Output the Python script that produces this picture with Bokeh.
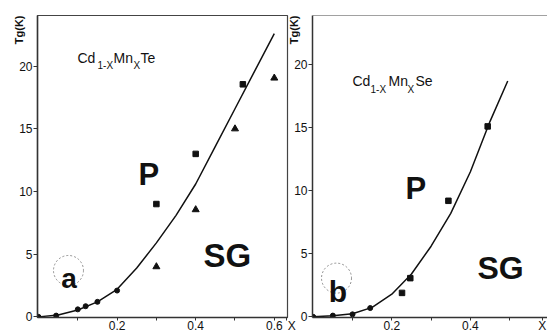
from bokeh.plotting import figure
from bokeh.layouts import row
from bokeh.models import FixedTicker, Label, Span, Title
from bokeh.embed import file_html
from bokeh.resources import INLINE

# ---------------- data ----------------
# Panel a: Cd(1-x)Mn(x)Te
a_curve_x = [0, 0.05, 0.1, 0.15, 0.2, 0.25, 0.3, 0.35, 0.4, 0.45, 0.5, 0.55, 0.6]
a_curve_y = [0, 0.15, 0.55, 1.2, 2.2, 3.9, 5.9, 8.1, 10.6, 13.6, 16.6, 19.6, 22.6]
a_circle_x = [0, 0.045, 0.1, 0.12, 0.15, 0.2]
a_circle_y = [0, 0.1, 0.6, 0.85, 1.2, 2.1]
a_square_x = [0.3, 0.4, 0.52]
a_square_y = [9.0, 13.0, 18.55]
a_triangle_x = [0.3, 0.4, 0.5, 0.6]
a_triangle_y = [4.0, 8.55, 15.0, 19.05]

# Panel b: Cd(1-x)Mn(x)Se
b_curve_x = [0, 0.05, 0.1, 0.15, 0.2, 0.25, 0.3, 0.35, 0.4, 0.45, 0.495]
b_curve_y = [0, 0.08, 0.25, 0.75, 1.8, 3.4, 5.6, 8.2, 11.5, 15.5, 18.7]
b_circle_x = [0, 0.05, 0.1, 0.145]
b_circle_y = [0, 0.1, 0.2, 0.7]
b_square_x = [0.226, 0.247, 0.344, 0.444]
b_square_y = [1.9, 3.07, 9.2, 15.1]

# tick labels (the last one of each x axis carries the "X" axis name)
x_labels_a = {0.2: "0.2", 0.4: "0.4", 0.6: "0.6", 0.632: "\u00a0\u00a0\u00a0X"}
x_labels_b = {0.2: "0.2", 0.4: "0.4", 0.583: "X"}
x_minor_ticks = [0.1, 0.3, 0.5]
y_ticks = [0, 5, 10, 15, 20]
y_title = "Tg(K)"

FONT = "Liberation Sans"
INK = "#111111"


def ra(px, py):
    return ((px - 38) / 393.0, (319 - py) / 12.7)


def rb(px, py):
    return ((px - 312.7) / 393.0, (319 - py) / 12.7)


def make_fig(width, xr, yr, mbl, mbr, mbt, xlabels, outline=True):
    p = figure(width=width, height=335, x_range=xr, y_range=yr,
               output_backend="svg", toolbar_location=None,
               min_border_left=mbl, min_border_right=mbr,
               min_border_top=mbt, min_border_bottom=16)
    p.background_fill_color = "white"
    p.border_fill_color = "white"
    p.xgrid.visible = False
    p.ygrid.visible = False
    p.outline_line_color = "#444444" if outline else None
    p.outline_line_width = 1.2
    p.xaxis.ticker = FixedTicker(ticks=sorted(xlabels.keys()),
                                 minor_ticks=x_minor_ticks)
    p.xaxis.major_label_overrides = xlabels
    p.yaxis.ticker = FixedTicker(ticks=y_ticks, minor_ticks=[])
    for ax in (p.xaxis[0], p.yaxis[0]):
        ax.axis_label = None
        ax.axis_line_color = "#333333"
        ax.axis_line_width = 1.5
        ax.major_tick_line_color = "#333333"
        ax.minor_tick_line_color = "#333333"
        ax.major_tick_in = 0
        ax.minor_tick_in = 0
        ax.major_label_text_font = FONT
        ax.major_label_text_color = INK
        ax.major_label_text_font_size = "12px"
    p.xaxis.major_tick_out = 3
    p.xaxis.minor_tick_out = 3
    p.xaxis.major_label_standoff = -2
    p.yaxis.major_tick_out = 4
    p.yaxis.minor_tick_out = 0
    p.yaxis.major_label_standoff = 1
    t = Title(text=y_title, align="right", text_font=FONT,
              text_font_size="11px", text_font_style="bold",
              text_color=INK, standoff=0)
    try:
        t.standoff = -16
    except Exception:
        t.standoff = 0
    p.add_layout(t, "left")
    return p


def lab(p, xy, text, size, bold=False, align="left", color=INK):
    p.add_layout(Label(x=xy[0], y=xy[1], text=text, text_font=FONT,
                       text_font_size=f"{size}px",
                       text_font_style="bold" if bold else "normal",
                       text_align=align, text_baseline="alphabetic",
                       text_color=color))


# ---------------- panel a ----------------
pa = make_fig(297, (-0.0025, 0.6336), (-0.05, 24.04), 37, 10, 13, x_labels_a)
pa.line(a_curve_x, a_curve_y, line_color=INK, line_width=1.5)
pa.scatter(a_circle_x, a_circle_y, marker="circle", size=5, color=INK)
pa.scatter(a_square_x, a_square_y, marker="square", size=5.5, color=INK)
pa.scatter(a_triangle_x, a_triangle_y, marker="triangle", size=7, color=INK)

lab(pa, ra(77, 57), "Cd", 14)
lab(pa, ra(97, 64), "1-X", 10)
lab(pa, ra(113, 57), "Mn", 14)
lab(pa, ra(133, 64), "X", 10)
lab(pa, ra(140, 57), "Te", 14)
lab(pa, ra(138, 175), "P", 31, bold=True)
lab(pa, ra(203, 257), "SG", 33, bold=True)
lab(pa, ra(68.5, 280), "a", 28, bold=True, align="center")
cx, cy = ra(68, 272)
pa.scatter([cx], [cy], marker="circle", size=30, fill_color=None,
           line_color="#777777", line_width=0.8, line_dash="2 2")

# ---------------- panel b ----------------
pb = make_fig(268, (-0.0018, 0.5962), (-0.05, 23.89), 33, 0, 15, x_labels_b,
              outline=False)
pb.border_fill_alpha = 0.0
pb.margin = (0, 0, 0, -18)
pb.add_layout(Span(location=23.89, dimension="width", line_color="#444444",
                   line_width=1.2))
pb.line(b_curve_x, b_curve_y, line_color=INK, line_width=1.5)
pb.scatter(b_circle_x, b_circle_y, marker="circle", size=5, color=INK)
pb.scatter(b_square_x, b_square_y, marker="square", size=5.5, color=INK)

lab(pb, rb(352, 82), "Cd", 14)
lab(pb, rb(370, 90), "1-X", 10)
lab(pb, rb(388, 82), "Mn", 14)
lab(pb, rb(407, 90), "X", 10)
lab(pb, rb(415, 82), "Se", 14)
lab(pb, rb(405, 190), "P", 31, bold=True)
lab(pb, rb(477, 270), "SG", 32, bold=True)
lab(pb, rb(337.5, 293), "b", 30, bold=True, align="center")
cx, cy = rb(336, 280)
pb.scatter([cx], [cy], marker="circle", size=30, fill_color=None,
           line_color="#777777", line_width=0.8, line_dash="2 2")

layout = row(pa, pb, spacing=0)
open("out.html", "w").write(file_html(layout, INLINE))
